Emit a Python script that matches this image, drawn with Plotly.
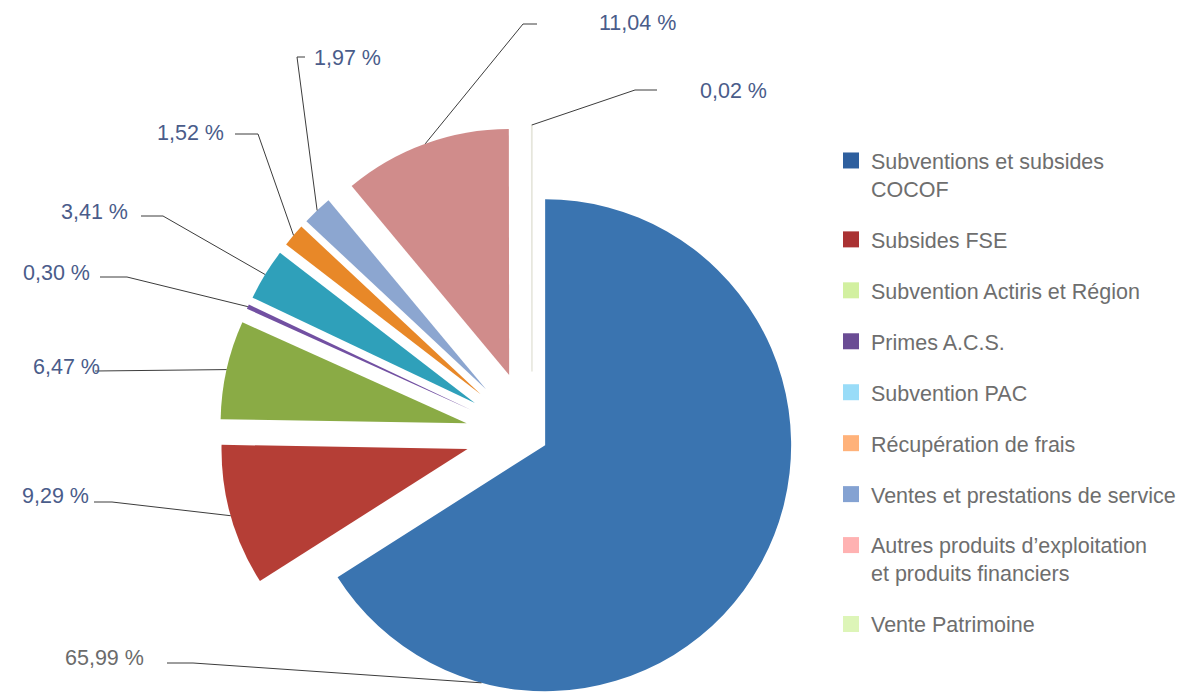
import math
import plotly.graph_objects as go

# ---------------- data ----------------
categories = [
    "Subventions et subsides<br>COCOF",
    "Subsides FSE",
    "Subvention Actiris et Région",
    "Primes A.C.S.",
    "Subvention PAC",
    "Récupération de frais",
    "Ventes et prestations de service",
    "Autres produits d’exploitation<br>et produits financiers",
    "Vente Patrimoine",
]
shares = [65.99, 9.29, 6.47, 0.30, 3.41, 1.52, 1.97, 11.04, 0.02]
share_labels = ["65,99 %", "9,29 %", "6,47 %", "0,30 %", "3,41 %",
                "1,52 %", "1,97 %", "11,04 %", "0,02 %"]

# ---------------- styles / layout ----------------
W, H = 1182, 695
slice_colors = ["#3A74B0", "#B53E36", "#8AAB45", "#7250A2", "#2FA0BA",
                "#E88828", "#8CA6D0", "#D08C8B", "#EEEEE4"]
legend_colors = ["#2E5F9E", "#AA3233", "#D2F0A0", "#6A4C94", "#99DCF8",
                 "#FFB27A", "#84A2D2", "#FFB2B2", "#DDF5B8"]
pulls_px = [15, 67, 67, 67, 67, 67, 67, 67, 67]
center_px = (532.0, 438.0)
R = 246.0
font_family = "Liberation Sans, Arial, sans-serif"
label_color = "#4A5C8A"
label_colors = ["#6B6B6B"] + [label_color] * 8
# text left x, text center y, leader line start, leader line elbow  (pixels)
label_pos = [
    (63, 658, (167, 663), (193, 663)),
    (20, 496, (94, 502), (112, 502)),
    (31, 367, (95, 371), (95, 371)),
    (21, 273, (100, 277), (127, 277)),
    (59, 212, (141, 216), (163, 216)),
    (155, 133, (235, 134), (258, 134)),
    (312, 58, (305, 57), (297, 57)),
    (597, 23, (537, 24), (523, 24)),
    (698, 91, (657, 90), (635, 90)),
]
label_angle_override = {0: 195.0}

# ---------------- geometry from data ----------------
total = sum(shares)
mids = []
acc = 0.0
for v in shares:
    mids.append((acc + v / 2) / total * 360.0)
    acc += v


def px2paper(x, y):
    return x / W, 1 - y / H


fig = go.Figure()
centers = []
for i, v in enumerate(shares):
    th = math.radians(mids[i])
    cx = center_px[0] + pulls_px[i] * math.sin(th)
    cy = center_px[1] - pulls_px[i] * math.cos(th)
    cy = min(max(cy, R), H - R)
    cx = min(max(cx, R), W - R)
    centers.append((cx, cy))
    cols = ["rgba(0,0,0,0)"] * len(shares)
    cols[i] = slice_colors[i]
    lw = [0] * len(shares)
    lc = ["rgba(0,0,0,0)"] * len(shares)
    if i == len(shares) - 1:
        lw[i] = 1.5
        lc[i] = "#E6E6DC"
    fig.add_trace(go.Pie(
        labels=categories, values=shares, sort=False, direction="clockwise",
        rotation=0, textinfo="none", hoverinfo="skip", showlegend=False,
        marker=dict(colors=cols, line=dict(width=lw, color=lc)),
        domain=dict(x=[(cx - R) / W, (cx + R) / W],
                    y=[1 - (cy + R) / H, 1 - (cy - R) / H]),
    ))

# legend entries
for i, name in enumerate(categories):
    fig.add_trace(go.Scatter(
        x=[None], y=[None], mode="markers", name=name,
        legendgroup=f"g{i}",
        marker=dict(symbol="square", size=16, color=legend_colors[i]),
    ))

shapes = []
annotations = []
for i, lab in enumerate(share_labels):
    tx, ty, (sx, sy), (ex, ey) = label_pos[i]
    ang = math.radians(label_angle_override.get(i, mids[i]))
    cx, cy = centers[i]
    px_ = cx + R * math.sin(ang)
    py_ = cy - R * math.cos(ang)
    p0 = px2paper(sx, sy)
    p1 = px2paper(ex, ey)
    p2 = px2paper(px_, py_)
    shapes.append(dict(
        type="path", xref="paper", yref="paper",
        path=f"M{p0[0]},{p0[1]} L{p1[0]},{p1[1]} L{p2[0]},{p2[1]}",
        line=dict(color="#3C3C3C", width=1),
    ))
    ax, ay = px2paper(tx, ty)
    annotations.append(dict(
        x=ax, y=ay, xref="paper", yref="paper", text=lab, showarrow=False,
        xanchor="left", yanchor="middle",
        font=dict(family=font_family, size=21.5, color=label_colors[i]),
    ))

fig.update_layout(
    width=W, height=H, autosize=False,
    margin=dict(l=0, r=0, t=0, b=0, pad=0),
    paper_bgcolor="white", plot_bgcolor="white",
    xaxis=dict(visible=False), yaxis=dict(visible=False),
    shapes=shapes, annotations=annotations,
    legend=dict(
        x=831 / W, y=1 - 140 / H, xanchor="left", yanchor="top",
        font=dict(family=font_family, size=21.5, color="#6E6E6E"),
        tracegroupgap=20, valign="top", traceorder="grouped",
        bgcolor="rgba(0,0,0,0)",
    ),
)

fig.write_html("out.html")
